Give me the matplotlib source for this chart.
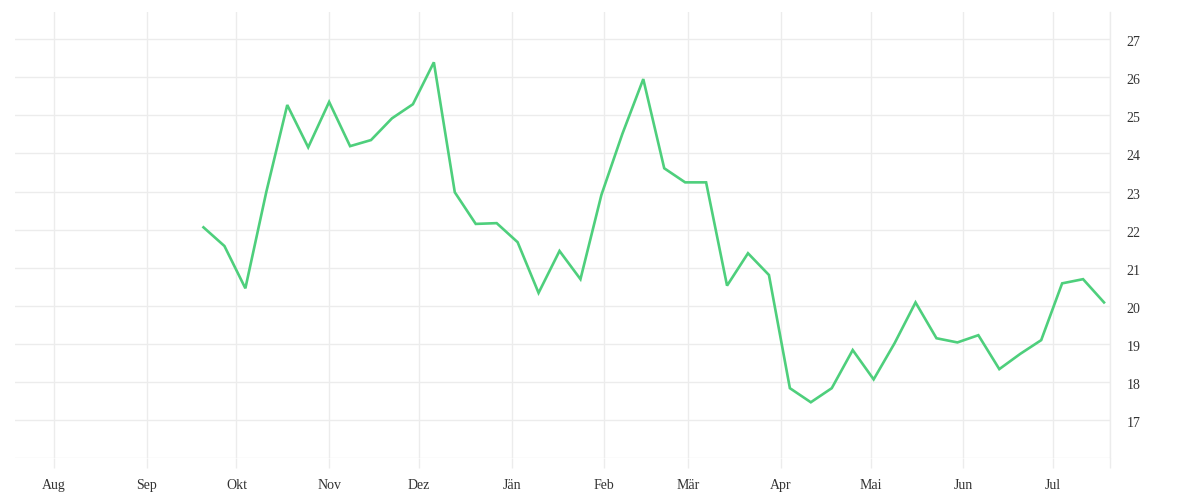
import matplotlib
matplotlib.use("Agg")
import matplotlib.pyplot as plt
import matplotlib.transforms as mtransforms
import pandas as pd

start_date = "2022-09-20"
values = [22.06, 21.57, 20.46, 22.99, 25.27, 24.16, 25.35, 24.19, 24.35, 24.92,
          25.29, 26.39, 22.98, 22.15, 22.17, 21.67, 20.34, 21.44, 20.70, 22.91,
          24.51, 25.95, 23.61, 23.24, 23.24, 20.53, 21.38, 20.81, 17.84, 17.47,
          17.84, 18.84, 18.07, 19.02, 20.09, 19.15, 19.04, 19.23, 18.34, 18.74,
          19.10, 20.59, 20.70, 20.09]
month_ticks = pd.date_range("2022-08-01", "2023-07-01", freq="MS")
month_labels = ["Aug", "Sep", "Okt", "Nov", "Dez", "Jän", "Feb", "Mär",
                "Apr", "Mai", "Jun", "Jul"]
y_ticks = [17, 18, 19, 20, 21, 22, 23, 24, 25, 26, 27]

dates = pd.date_range(start_date, periods=len(values), freq="7D")

grid_c = "#ececec"
text_c = "#333333"
plt.rcParams["font.family"] = ["Liberation Serif", "DejaVu Serif"]

fig = plt.figure(figsize=(12, 5), dpi=100)
ax = fig.add_axes([0.0125, 0.0834, 0.9125, 0.8926])
ax.plot(dates, values, color="#4ecf7c", linewidth=1.9, solid_joinstyle="miter")

x_end = pd.Timestamp("2023-07-20")
ax.set_xlim(pd.Timestamp("2022-07-19"), x_end)
ax.set_ylim(16, 27.71)

ax.set_xticks(list(month_ticks) + [x_end])
ax.set_xticklabels(month_labels + [""])
ax.yaxis.tick_right()
ax.set_yticks(y_ticks)
ax.set_yticklabels([str(v) for v in y_ticks])
ax.set_yticks([16], minor=True)

ax.grid(True, which="major", color=grid_c, linewidth=1)
ax.grid(True, which="minor", axis="y", color=grid_c, linewidth=1)
ax.set_axisbelow(True)

ax.tick_params(axis="x", which="major", length=7.2, width=1, color=grid_c,
               labelsize=10, labelcolor=text_c, pad=8)
ax.tick_params(axis="y", which="both", length=0, labelsize=10,
               labelcolor=text_c, pad=12)

shift = mtransforms.ScaledTranslation(0, -2 / 100, fig.dpi_scale_trans)
for lab in ax.get_yticklabels():
    lab.set_transform(lab.get_transform() + shift)

for s in ["top", "left", "bottom"]:
    ax.spines[s].set_visible(False)
ax.spines["right"].set_color(grid_c)
ax.spines["right"].set_linewidth(1)

fig.savefig("out.png", dpi=100, facecolor="white")
